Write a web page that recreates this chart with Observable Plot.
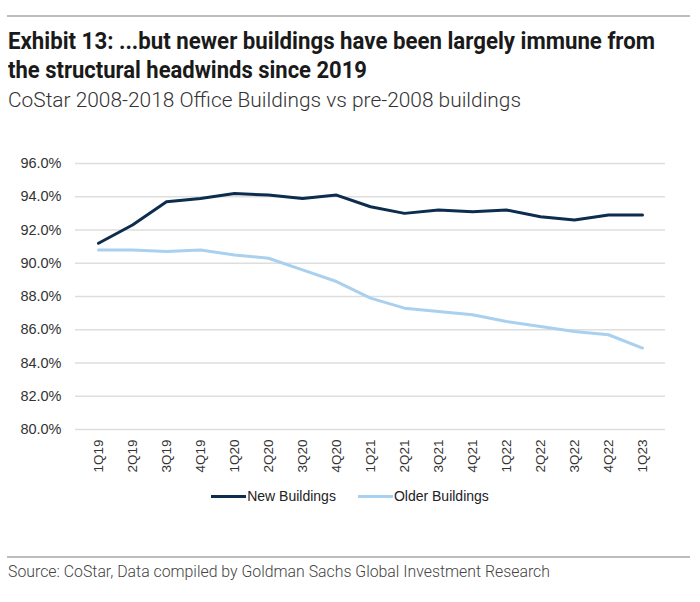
<!DOCTYPE html>
<html>
<head>
<meta charset="utf-8">
<script src="https://cdn.jsdelivr.net/npm/d3@7"></script>
<script src="https://cdn.jsdelivr.net/npm/@observablehq/plot@0.6"></script>
<style>
  html, body { margin: 0; padding: 0; background: #fff; }
  #wrap { position: relative; width: 700px; height: 602px; overflow: hidden; font-family: "Liberation Sans", Arial, sans-serif; }
  .rule { position: absolute; left: 7px; width: 683px; height: 2px; background: #bdbdbd; }
  .txt { position: absolute; left: 8px; white-space: nowrap; transform-origin: 0 50%; font-family: Roboto, "Liberation Sans", sans-serif; }
  .title { font-weight: bold; font-size: 23px; color: #1a1a1a; }
  .sub { font-size: 21px; color: #333; font-weight: 300; }
  .src { font-size: 16.5px; color: #444; font-weight: 300; }
  #chart { position: absolute; left: 0; top: 140px; }
  #legend { position: absolute; top: 488px; left: 0; width: 700px; display: flex; justify-content: center; font-size: 14px; color: #222; }
  .item { display: flex; align-items: center; margin: 0 11px; }
  .sw { width: 35px; height: 3px; margin-right: 1px; }
</style>
</head>
<body>
<div id="wrap">
  <div class="rule" style="top:15px"></div>
  <div class="txt title" id="t1" data-w="647" style="top:28px">Exhibit 13: ...but newer buildings have been largely immune from</div>
  <div class="txt title" id="t2" data-w="359" style="top:57px">the structural headwinds since 2019</div>
  <div class="txt sub" id="st" data-w="513" style="top:88px">CoStar 2008-2018 Office Buildings vs pre-2008 buildings</div>
  <div id="chart"></div>
  <div id="legend"></div>
  <div class="rule" style="top:556px"></div>
  <div class="txt src" id="src" data-w="542" style="top:562px">Source: CoStar, Data compiled by Goldman Sachs Global Investment Research</div>
</div>
<script>
const quarters = ["1Q19","2Q19","3Q19","4Q19","1Q20","2Q20","3Q20","4Q20","1Q21","2Q21","3Q21","4Q21","1Q22","2Q22","3Q22","4Q22","1Q23"];
const newBuildings = [91.2, 92.3, 93.7, 93.9, 94.2, 94.1, 93.9, 94.1, 93.4, 93.0, 93.2, 93.1, 93.2, 92.8, 92.6, 92.9, 92.9];
const olderBuildings = [90.8, 90.8, 90.7, 90.8, 90.5, 90.3, 89.6, 88.9, 87.9, 87.3, 87.1, 86.9, 86.5, 86.2, 85.9, 85.7, 84.9];
const yTicks = [80, 82, 84, 86, 88, 90, 92, 94, 96];
const seriesNames = ["New Buildings", "Older Buildings"];
const seriesColors = ["#0c2d4e", "#a9d0ef"];

// condense text to the reference widths
document.querySelectorAll(".txt").forEach(el => {
  const w = el.getBoundingClientRect().width;
  const target = +el.dataset.w;
  el.style.transform = `scaleX(${target / w})`;
});

const data = [];
quarters.forEach((q, i) => {
  data.push({q, v: newBuildings[i], s: seriesNames[0]});
  data.push({q, v: olderBuildings[i], s: seriesNames[1]});
});

const chart = Plot.plot({
  width: 700,
  height: 340,
  marginTop: 23,
  marginBottom: 51,
  marginLeft: 75,
  marginRight: 35,
  style: {fontFamily: "Liberation Sans, Arial, sans-serif", fontSize: "13px", color: "#333", background: "transparent"},
  x: {type: "point", domain: quarters, padding: 0.5},
  y: {domain: [80, 96]},
  color: {domain: seriesNames, range: seriesColors},
  marks: [
    Plot.ruleY(yTicks, {stroke: "#dedede", strokeWidth: 1.5}),
    Plot.axisY({ticks: yTicks, tickSize: 0, tickPadding: 14, tickFormat: d => d.toFixed(1) + "%", label: null, fontSize: 14.5}),
    Plot.axisX({tickSize: 0, tickPadding: 10, tickRotate: -90, label: null, fontSize: 13.5}),
    Plot.line(data.filter(d => d.s === seriesNames[1]), {x: "q", y: "v", stroke: "s", strokeWidth: 3}),
    Plot.line(data.filter(d => d.s === seriesNames[0]), {x: "q", y: "v", stroke: "s", strokeWidth: 3})
  ]
});
document.getElementById("chart").appendChild(chart);

const legend = document.getElementById("legend");
seriesNames.forEach((n, i) => {
  const it = document.createElement("div");
  it.className = "item";
  const sw = document.createElement("span");
  sw.className = "sw";
  sw.style.background = seriesColors[i];
  const t = document.createElement("span");
  t.textContent = n;
  it.appendChild(sw); it.appendChild(t);
  legend.appendChild(it);
});
</script>
</body>
</html>
